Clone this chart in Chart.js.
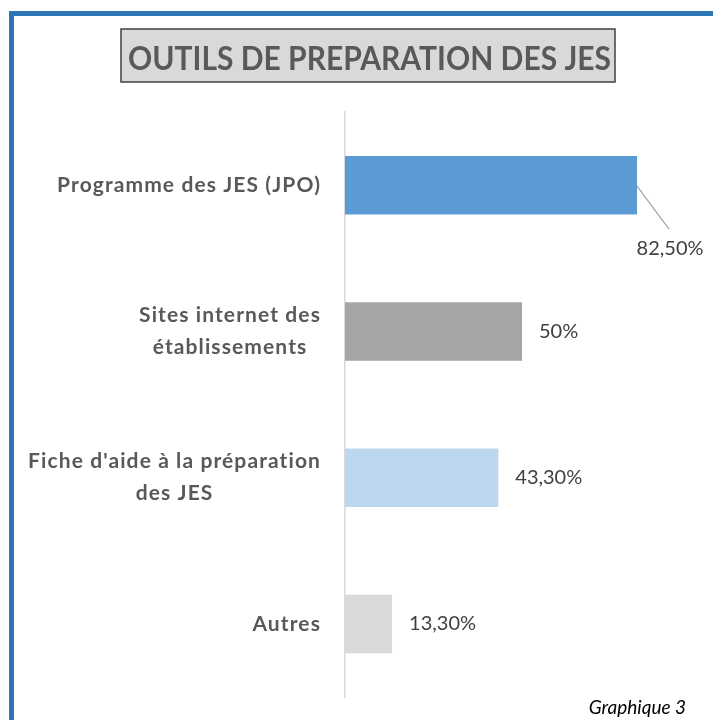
<!DOCTYPE html>
<html>
<head>
<meta charset="utf-8">
<script src="https://cdn.jsdelivr.net/npm/chart.js@4"></script>
<style>
html,body{margin:0;padding:0;background:#fff;}
canvas{display:block;}
</style>
</head>
<body>
<canvas id="c" width="713" height="720"></canvas>
<script>
const titleText = 'OUTILS DE PREPARATION DES JES';
const footerText = 'Graphique 3';
const categories = [
  ['Programme des JES (JPO)'],
  ['Sites internet des', 'établissements'],
  ["Fiche d'aide à la préparation", 'des JES'],
  ['Autres']
];
const values = [82.5, 50, 43.3, 13.3];
const valueLabels = ['82,50%', '50%', '43,30%', '13,30%'];
const barColors = ['#5B9BD5', '#A5A5A5', '#BDD7EE', '#D9D9D9'];

const decor = {
  id: 'decor',
  afterDraw(chart) {
    const ctx = chart.ctx;
    const y = chart.scales.y;
    ctx.save();
    // blue frame
    ctx.fillStyle = '#2E75B6';
    ctx.fillRect(9, 11, 713 - 9, 5);
    ctx.fillRect(9, 11, 5, 720 - 11);
    // title box
    ctx.fillStyle = '#D9D9D9';
    ctx.fillRect(121, 29, 494, 53);
    ctx.strokeStyle = '#404040';
    ctx.lineWidth = 1.5;
    ctx.strokeRect(121, 29, 494, 53);
    ctx.fillStyle = '#595959';
    ctx.font = 'bold 33px Lato';
    ctx.textAlign = 'center';
    ctx.textBaseline = 'alphabetic';
    ctx.fillText(titleText, 369.5, 70, 483);
    // category labels
    ctx.font = 'bold 21px Lato';
    if ('letterSpacing' in ctx) ctx.letterSpacing = '1.1px';
    ctx.fillStyle = '#595959';
    ctx.textBaseline = 'middle';
    categories.forEach((lines, i) => {
      const py = y.getPixelForValue(i);
      const widest = Math.max(...lines.map(l => ctx.measureText(l).width));
      const cx = 321 - widest / 2;
      const lh = 32;
      const startY = py - (lines.length - 1) * lh / 2;
      lines.forEach((l, j) => {
        const w = ctx.measureText(l).width;
        ctx.textAlign = 'left';
        ctx.fillText(l, cx - w / 2, startY + j * lh);
      });
    });
    if ('letterSpacing' in ctx) ctx.letterSpacing = '0px';
    // value labels
    const meta = chart.getDatasetMeta(0);
    ctx.font = '20px Lato';
    ctx.fillStyle = '#404040';
    meta.data.forEach((bar, i) => {
      const bx = bar.x, by = bar.y;
      if (i === 0) {
        ctx.strokeStyle = '#A6A6A6';
        ctx.lineWidth = 1.3;
        ctx.beginPath();
        ctx.moveTo(bx, by + 1);
        ctx.lineTo(bx + 32, by + 44);
        ctx.stroke();
        ctx.textAlign = 'center';
        ctx.fillText(valueLabels[i], bx + 33, by + 63);
      } else {
        ctx.textAlign = 'left';
        ctx.fillText(valueLabels[i], bx + 17, by);
      }
    });
    // footer
    ctx.font = 'italic 19px Lato';
    ctx.fillStyle = '#000000';
    ctx.textAlign = 'right';
    ctx.fillText(footerText, 686, 708);
    ctx.restore();
  }
};

new Chart(document.getElementById('c'), {
  type: 'bar',
  data: {
    labels: categories,
    datasets: [{
      data: values,
      backgroundColor: barColors,
      borderWidth: 0,
      barPercentage: 0.4,
      categoryPercentage: 1
    }]
  },
  options: {
    indexAxis: 'y',
    responsive: false,
    animation: false,
    devicePixelRatio: 1,
    layout: { padding: { top: 112, right: 14, bottom: 23, left: 0 } },
    plugins: { legend: { display: false }, tooltip: { enabled: false }, title: { display: false } },
    scales: {
      x: { display: false, min: 0, max: 100 },
      y: {
        grid: { display: false, drawTicks: false },
        border: { display: true, color: '#D9D9D9', width: 1.5 },
        ticks: { display: false },
        afterFit(scale) { scale.width = 345; }
      }
    }
  },
  plugins: [decor]
});
</script>
</body>
</html>
